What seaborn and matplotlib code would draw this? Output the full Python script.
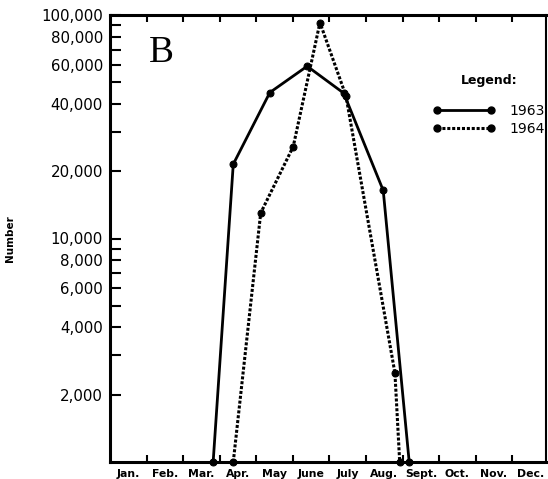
import matplotlib
matplotlib.use("Agg")
import numpy as np
import pandas as pd
import matplotlib.pyplot as plt
import seaborn as sns
from matplotlib.lines import Line2D
from matplotlib.ticker import FixedLocator, NullFormatter

# Month axis: each month is one unit wide, ticks at month boundaries
months = ["Jan.", "Feb.", "Mar.", "Apr.", "May", "June", "July",
          "Aug.", "Sept.", "Oct.", "Nov.", "Dec."]

# Data (x in months from 1 Jan, y = number)
x_1963 = [2.82, 3.37, 4.37, 5.39, 6.39, 7.47, 8.18]
y_1963 = [1000, 21500, 45000, 59000, 44700, 16400, 1000]
x_1964 = [3.37, 4.12, 5.01, 5.74, 6.45, 7.79, 7.92]
y_1964 = [1000, 13000, 25800, 92500, 43500, 2500, 1000]

y_major = [2000, 4000, 6000, 8000, 10000, 20000, 40000, 60000, 80000, 100000]
y_minor = [3000, 5000, 7000, 9000, 30000, 50000, 70000, 90000]

df = pd.DataFrame({
    "month": x_1963 + x_1964,
    "number": y_1963 + y_1964,
    "year": ["1963"] * len(x_1963) + ["1964"] * len(x_1964),
})

sns.set_style("white")
plt.rcParams["font.family"] = ["DejaVu Sans"]
plt.rcParams.update({"text.color": "black", "axes.labelcolor": "black",
                     "xtick.color": "black", "ytick.color": "black"})

fig = plt.figure(figsize=(5.48, 4.79), dpi=100)
ax = fig.add_axes([110 / 548, 1 - 462 / 479, 436 / 548, 447 / 479])

sns.lineplot(data=df, x="month", y="number", hue="year", style="year",
             palette={"1963": "black", "1964": "black"},
             dashes={"1963": "", "1964": (1, 0.6)},
             markers={"1963": "o", "1964": "o"},
             markersize=5, linewidth=2, markeredgecolor="black",
             legend=False, ax=ax)
for ln in ax.lines:
    ln.set_clip_on(False)
ax.lines[1].set_linewidth(2.2)

ax.set_yscale("log")
ax.set_ylim(1000, 100000)
ax.set_xlim(0, 11.92)

ax.yaxis.set_major_locator(FixedLocator(y_major))
ax.yaxis.set_minor_locator(FixedLocator(y_minor))
ax.set_yticklabels([f"{v:,}" for v in y_major], fontsize=10.8)
ax.yaxis.set_minor_formatter(NullFormatter())
ax.tick_params(axis="y", which="both", direction="in", length=8, width=1.5,
               left=True, right=False, pad=5)

ax.set_xticks(np.arange(1, 12))
ax.set_xticklabels([])
ax.set_xticks(np.arange(12) + 0.5, minor=True)
ax.set_xticklabels(months, minor=True, fontsize=7.8, fontweight="bold")
ax.tick_params(axis="x", which="major", direction="in", length=5, width=1.5,
               top=True, bottom=True)
ax.tick_params(axis="x", which="minor", length=0, pad=5)

for side, sp in ax.spines.items():
    sp.set_visible(True)
    sp.set_color("black")
    sp.set_linewidth(2.2)
ax.spines["right"].set_linewidth(1.5)

ax.set_xlabel("")
ax.set_ylabel("Number", fontsize=7.5, fontweight="bold")
ax.yaxis.set_label_coords(-95 / 436, 0.5)

ax.text(0.118, 0.915, "B", transform=ax.transAxes, fontsize=27,
        family="Liberation Serif", ha="center", va="center", color="black")

handles = [
    Line2D([], [], color="black", lw=2, marker="o", markersize=5),
    Line2D([], [], color="black", lw=2.2, ls=(0, (1, 0.6)), marker="o", markersize=5),
]
leg = ax.legend(handles, ["1963", "1964"], title="Legend:", frameon=False,
                loc="upper left", bbox_to_anchor=(433 / 548, 1 - 74 / 479),
                bbox_transform=fig.transFigure, fontsize=10, numpoints=2,
                handlelength=4.5, handletextpad=1.0, labelspacing=0.3,
                borderpad=0, borderaxespad=0)
leg.get_title().set_fontsize(9)
leg.get_title().set_fontweight("bold")
leg._legend_box.sep = 12

fig.savefig("out.png", dpi=100)
